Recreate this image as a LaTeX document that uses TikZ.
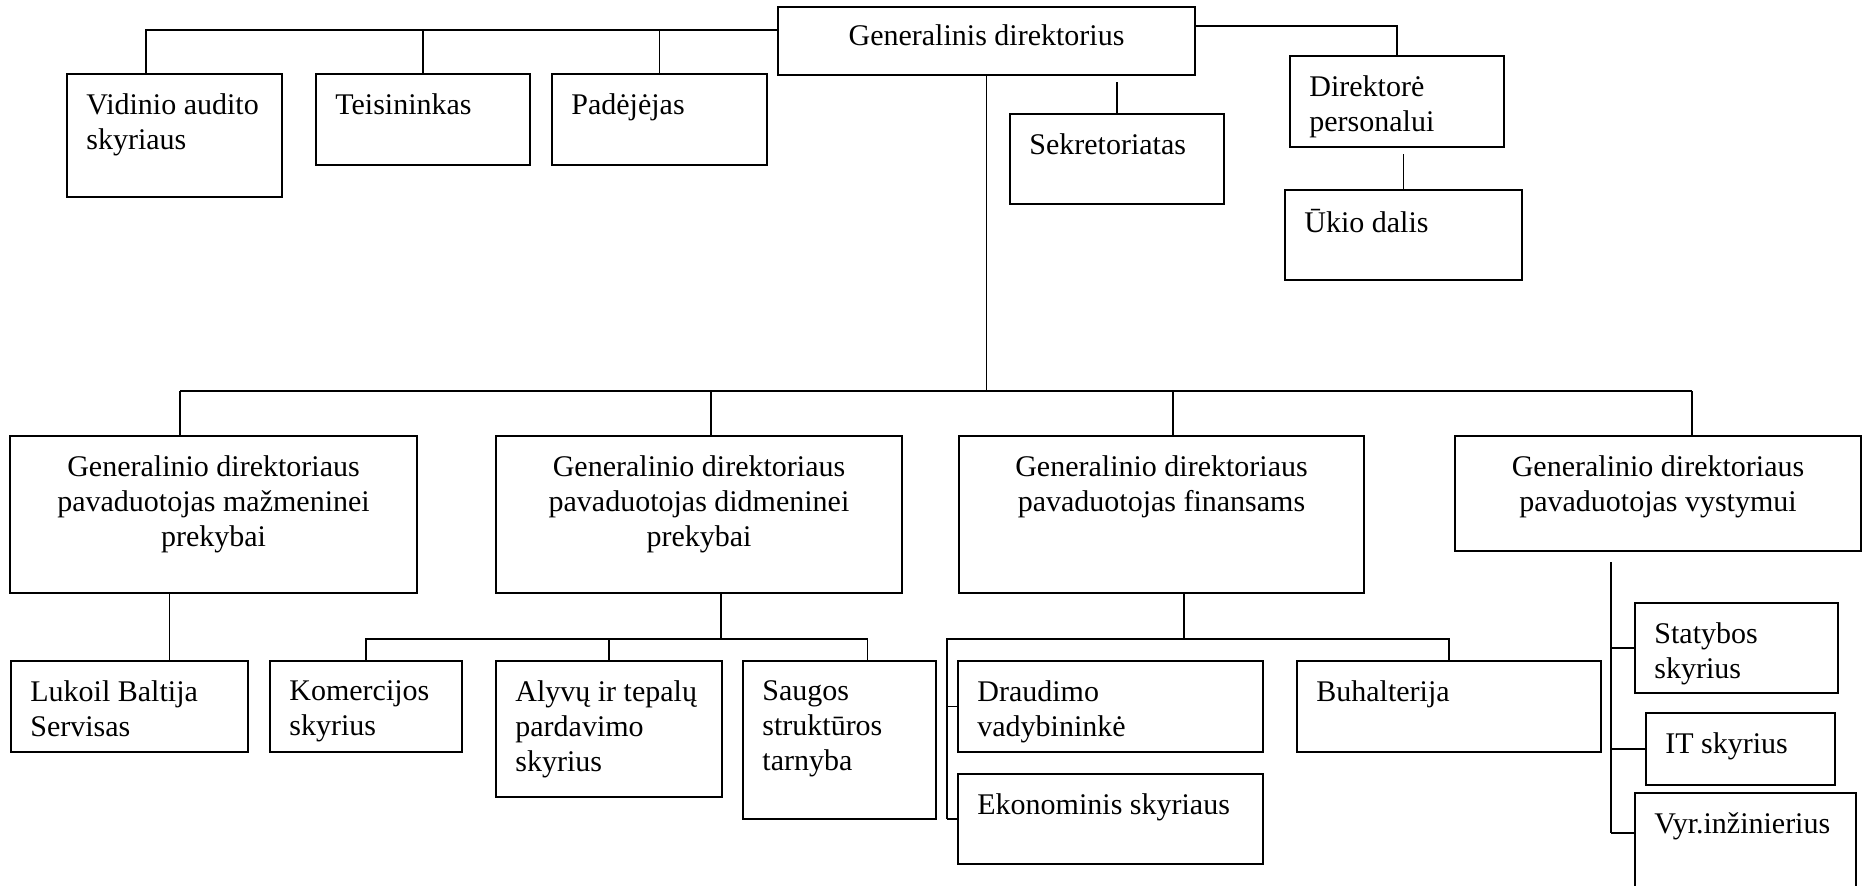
\documentclass[tikz,border=0pt]{standalone}
\usepackage{fontspec}
\setmainfont{Liberation Serif}
\usetikzlibrary{fit}

\begin{document}
\begin{tikzpicture}[x=0.5pt, y=-0.5pt,
    box/.style={draw, line width=1pt, inner sep=0pt},
    txt/.style={anchor=north west, xshift=10pt, yshift=-10pt, inner sep=0pt, align=left, font=\fontsize{15pt}{17.5pt}\selectfont},
    txtc/.style={anchor=north, yshift=-10pt, inner sep=0pt, align=center, font=\fontsize{15pt}{17.5pt}\selectfont},
    link/.style={line width=0.9pt}]
	\useasboundingbox (0,0) rectangle (1868,885);
	\clip (0,0) rectangle (1868,885);

	% top level
	\node [box, fit={(778,7) (1195,75)}, label={[txtc, yshift=1pt]north:Generalinis direktorius}] (gd) {};
	\node [box, fit={(67,74) (282,197)}, label={[txt]north west:Vidinio audito\\skyriaus}] (vid) {};
	\node [box, fit={(316,74) (530,165)}, label={[txt]north west:Teisininkas}] (tei) {};
	\node [box, fit={(552,74) (767,165)}, label={[txt]north west:Padėjėjas}] (pad) {};
	\node [box, fit={(1010,114) (1224,204)}, label={[txt]north west:Sekretoriatas}] (sek) {};
	\node [box, fit={(1290,56) (1504,147)}, label={[txt]north west:Direktorė\\personalui}] (dir) {};
	\node [box, fit={(1285,190) (1522,280)}, label={[txt]north west:Ūkio dalis}] (uki) {};

	% deputies
	\node [box, fit={(10,436) (417,593)}, label={[txtc]north:Generalinio direktoriaus\\pavaduotojas mažmeninei\\prekybai}] (m1) {};
	\node [box, fit={(496,436) (902,593)}, label={[txtc]north:Generalinio direktoriaus\\pavaduotojas didmeninei\\prekybai}] (m2) {};
	\node [box, fit={(959,436) (1364,593)}, label={[txtc]north:Generalinio direktoriaus\\pavaduotojas finansams}] (m3) {};
	\node [box, fit={(1455,436) (1861,551)}, label={[txtc]north:Generalinio direktoriaus\\pavaduotojas vystymui}] (m4) {};

	% departments
	\node [box, fit={(11,661) (248,752)}, label={[txt]north west:Lukoil Baltija\\Servisas}] (luk) {};
	\node [box, fit={(270,661) (462,752)}, label={[txt]north west:Komercijos\\skyrius}] (kom) {};
	\node [box, fit={(496,661) (722,797)}, label={[txt]north west:Alyvų ir tepalų\\pardavimo\\skyrius}] (aly) {};
	\node [box, fit={(743,661) (936,819)}, label={[txt]north west:Saugos\\struktūros\\tarnyba}] (sau) {};
	\node [box, fit={(958,661) (1263,752)}, label={[txt]north west:Draudimo\\vadybininkė}] (dra) {};
	\node [box, fit={(958,774) (1263,864)}, label={[txt]north west:Ekonominis skyriaus}] (eko) {};
	\node [box, fit={(1297,661) (1601,752)}, label={[txt]north west:Buhalterija}] (buh) {};
	\node [box, fit={(1635,603) (1838,693)}, label={[txt]north west:Statybos\\skyrius}] (sta) {};
	\node [box, fit={(1646,713) (1835,785)}, label={[txt]north west:IT skyrius}] (it) {};
	\node [box, fit={(1635,793) (1856,900)}, label={[txt]north west:Vyr.inžinierius}] (vyr) {};

	% top connectors
	\coordinate (t0) at (146,30);
	\draw [link] (gd.west |- t0) -- (t0) -- (vid.north -| t0);
	\draw [link] (tei.north |- t0) -- (tei.north);
	\draw [link] (pad.north |- t0) -- (pad.north);
	\draw [link] (gd.east |- 0,26) -| (dir.north);
	\draw [link, shorten <=3pt] (gd.south -| sek.north) -- (sek.north);
	\draw [link, shorten <=3pt] (dir.south -| uki.north) -- (uki.north);

	% main bus
	\coordinate (d1) at (180,391);
	\coordinate (d2) at (711,391);
	\coordinate (d3) at (1173,391);
	\coordinate (d4) at (1692,391);
	\draw [link] (gd.south) -- (gd.south |- d1);
	\draw [link] (d1) -- (d4);
	\foreach \i in {1,...,4}
		\draw [link] (d\i) -- (m\i.north -| d\i);

	% retail
	\draw [link] ([xshift=20pt]luk.north |- m1.south) -- ([xshift=20pt]luk.north);

	% wholesale
	\coordinate (s2) at (721,639);
	\draw [link] (m2.south -| s2) -- (s2);
	\draw [link] (kom.north) |- (s2) -| ([xshift=14pt]sau.north);
	\draw [link] (aly.north |- s2) -- (aly.north);

	% finance
	\coordinate (s3) at (1184,639);
	\coordinate (v3) at (947,639);
	\draw [link] (m3.south -| s3) -- (s3);
	\draw [link] (eko.west -| v3) |- (buh.north |- s3) -- (buh.north);
	\draw [link] (dra.west -| v3) -- (dra.west);
	\draw [link] (eko.west -| v3) -- (eko.west);

	% development
	\coordinate (v4) at (1611,833);
	\draw [link, shorten <=5pt] (m4.south -| v4) -- (v4);
	\draw [link] (sta.west -| v4) -- (sta.west);
	\draw [link] (it.west -| v4) -- (it.west);
	\draw [link] (v4) -- (vyr.west |- v4);
\end{tikzpicture}
\end{document}
